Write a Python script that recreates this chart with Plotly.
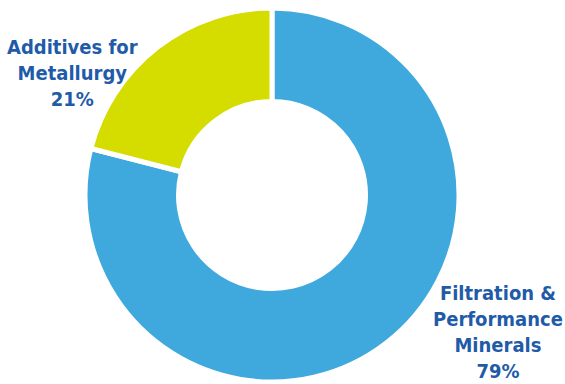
import plotly.graph_objects as go

categories = ["Filtration & Performance Minerals", "Additives for Metallurgy"]
values = [79, 21]
label_texts = ["Filtration &<br>Performance<br>Minerals<br>79%", "Additives for<br>Metallurgy<br>21%"]
colors = ["#3FA9DD", "#D4DC00"]

W, H = 565, 384
cx, cy, r = 272, 195, 187

fig = go.Figure(go.Pie(
    labels=categories, values=values, sort=False, direction="clockwise",
    rotation=0, hole=0.5, textinfo="none", hoverinfo="label+percent",
    marker=dict(colors=colors, line=dict(color="white", width=5)),
    domain=dict(x=[(cx - r) / W, (cx + r) / W], y=[(H - cy - r) / H, (H - cy + r) / H]),
    showlegend=False,
))

font = dict(family="DejaVu Sans Condensed, Liberation Sans Narrow, sans-serif", size=20, color="#1F5BA8")
fig.add_annotation(x=72 / W, y=1 - 73 / H, xref="paper", yref="paper", text="<b>" + label_texts[1] + "</b>",
                   showarrow=False, font=font, align="center", xanchor="center", yanchor="middle")
fig.add_annotation(x=498 / W, y=1 - 332 / H, xref="paper", yref="paper", text="<b>" + label_texts[0] + "</b>",
                   showarrow=False, font=font, align="center", xanchor="center", yanchor="middle")

fig.update_layout(width=W, height=H, margin=dict(l=0, r=0, t=0, b=0),
                  paper_bgcolor="white", plot_bgcolor="white")
fig.write_html("out.html")
